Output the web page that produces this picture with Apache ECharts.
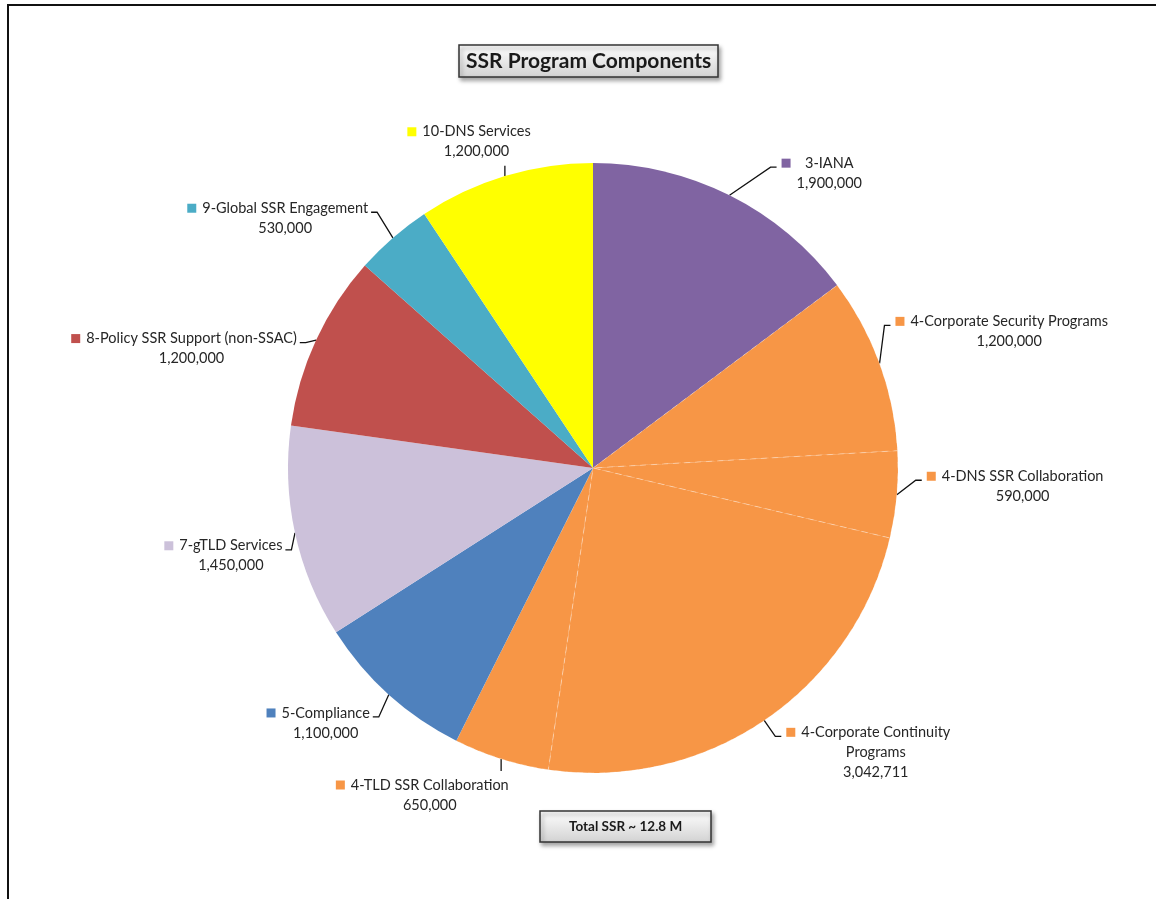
<!DOCTYPE html>
<html>
<head>
<meta charset="utf-8">
<title>SSR Program Components</title>
<script src="https://cdn.jsdelivr.net/npm/echarts@6/dist/echarts.min.js"></script>
<style>
    html, body { margin: 0; padding: 0; background: #fff; }
    #main { width: 1156px; height: 899px; }
</style>
</head>
<body>
<div id="main"></div>
<script>
// slices clockwise from 12 o'clock
var categories = [
    '3-IANA',
    '4-Corporate Security Programs',
    '4-DNS SSR Collaboration',
    '4-Corporate Continuity\nPrograms',
    '4-TLD SSR Collaboration',
    '5-Compliance',
    '7-gTLD Services',
    '8-Policy SSR Support (non-SSAC)',
    '9-Global SSR Engagement',
    '10-DNS Services'
];
var values = [1900000, 1200000, 590000, 3042711, 650000, 1100000, 1450000, 1200000, 530000, 1200000];
var colors = ['#8064A2', '#F79646', '#F79646', '#F79646', '#F79646', '#4F81BD', '#CCC1DA', '#C0504D', '#4BACC6', '#FFFF00'];
var totalText = 'Total SSR ~ 12.8 M';

// label nudges so the labels sit where Excel put them (layout only)
// [dx, dy, leader style]  h = side leader, down/up = straight vertical leader
var labelNudge = [
    [32, -6, 'h'], [-13, -26, 'h'], [0, -10, 'h'], [0, 17, 'h'], [25, 19, 'down'],
    [5, 15, 'h'], [17, 19, 'h'], [9, 16, 'h'], [-1, -6, 'h'], [43, -17, 'up']
];

var chart = echarts.init(document.getElementById('main'));

// rich styles: one coloured marker per slice
var rich = {
    s: { width: 6 },
    p: { width: 15 },
    n: { align: 'center', fontSize: 14.5, color: '#262626', lineHeight: 20, fontFamily: 'Lato' }
};
colors.forEach(function (c, i) {
    rich['m' + i] = { width: 9, height: 9, backgroundColor: c };
});

var data = categories.map(function (name, i) {
    var orange = colors[i] === '#F79646';
    return {
        name: name,
        value: values[i],
        itemStyle: {
            color: colors[i],
            borderColor: orange ? 'rgba(255,255,255,0.3)' : colors[i],
            borderWidth: orange ? 1 : 0,
            borderType: orange ? [6, 5] : 'solid'
        }
    };
});

var boxFill = new echarts.graphic.LinearGradient(0, 0, 0, 1, [
    { offset: 0, color: '#ffffff' },
    { offset: 1, color: '#d2d2d2' }
]);

var option = {
    backgroundColor: '#fff',
    animation: false,
    title: [{
        text: 'SSR Program Components',
        left: 459,
        top: 45,
        padding: [6, 7, 5, 7],
        backgroundColor: boxFill,
        borderColor: '#333',
        borderWidth: 1.5,
        shadowColor: 'rgba(0,0,0,0.35)',
        shadowBlur: 4,
        shadowOffsetX: 2,
        shadowOffsetY: 3,
        textStyle: { fontFamily: 'Lato', fontSize: 21, fontWeight: 'bold', color: '#1a1a1a' }
    }, {
        text: totalText,
        left: 540,
        top: 811,
        padding: [9, 29, 8, 29],
        backgroundColor: boxFill,
        borderColor: '#333',
        borderWidth: 1.5,
        shadowColor: 'rgba(0,0,0,0.35)',
        shadowBlur: 4,
        shadowOffsetX: 2,
        shadowOffsetY: 3,
        textStyle: { fontFamily: 'Lato', fontSize: 13.5, fontWeight: 'bold', color: '#1a1a1a' }
    }],
    graphic: [{
        // outer frame (only left and top edges fall inside the picture)
        type: 'rect',
        shape: { x: 8, y: 5, width: 1200, height: 1000 },
        style: { fill: 'none', stroke: '#111', lineWidth: 2 },
        silent: true
    }],
    series: [{
        type: 'pie',
        center: [593, 468],
        radius: 305,
        startAngle: 90,
        clockwise: true,
        data: data,
        label: {
            show: true,
            position: 'outside',
            fontFamily: 'Lato',
            fontSize: 14.5,
            color: '#262626',
            lineHeight: 20,
            distanceToLabelLine: 4,
            rich: rich,
            formatter: function (p) {
                var lines = p.name.split('\n');
                var s = '{m' + p.dataIndex + '|}{s|}{n|' + lines[0] + '}';
                for (var i = 1; i < lines.length; i++) {
                    s += '\n{p|}{n|' + lines[i] + '}';
                }
                s += '\n{p|}{n|' + p.value.toLocaleString('en-US') + '}';
                return s;
            }
        },
        labelLine: {
            show: true,
            length: 18,
            length2: 8,
            lineStyle: { color: '#111', width: 1.3 }
        },
        labelLayout: function (params) {
            var n = labelNudge[params.dataIndex];
            var r = params.labelRect;
            var pts = params.labelLinePoints;
            var x = r.x + n[0];
            var y = r.y + n[1];
            var p0 = pts[0];
            var right = pts[2][0] > p0[0];
            var line;
            if (n[2] === 'down') {
                line = [p0, [p0[0], y - 4]];
            } else if (n[2] === 'up') {
                line = [p0, [p0[0], y + r.height + 4]];
            } else if (right) {
                line = [p0, [x - 11, y + 14], [x - 5, y + 14]];
            } else {
                line = [p0, [x + r.width + 9, y + 14], [x + r.width + 3, y + 14]];
            }
            return { dx: n[0], dy: n[1], labelLinePoints: line };
        }
    }]
};

chart.setOption(option);
</script>
</body>
</html>
